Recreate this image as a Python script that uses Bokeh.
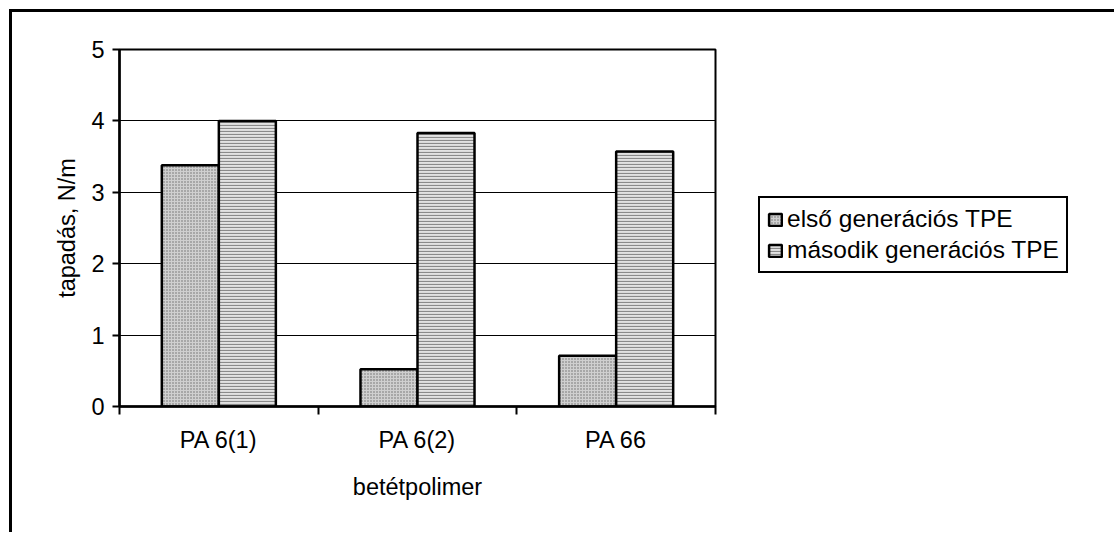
from bokeh.plotting import figure
from bokeh.models import ColumnDataSource, Range1d, FixedTicker, Legend, LegendItem
from bokeh.transform import dodge
from bokeh.embed import file_html
from bokeh.resources import INLINE

# ---- data ----
categories = ["PA 6(1)", "PA 6(2)", "PA 66"]
first_gen = [3.38, 0.52, 0.71]
second_gen = [4.0, 3.83, 3.57]
series_names = ["első generációs TPE", "második generációs TPE"]
y_ticks = [0, 1, 2, 3, 4, 5]
x_title = "betétpolimer"
y_title = "tapadás, N/m"

FONT = "Liberation Sans"
FS = "23.5px"

xpos = [i + 0.5 for i in range(len(categories))]
source = ColumnDataSource(dict(x=xpos, cat=categories, s1=first_gen, s2=second_gen))

p = figure(width=1100, height=520, output_backend="svg", toolbar_location=None,
           x_range=Range1d(0, len(categories)), y_range=Range1d(0, 5),
           min_border_left=107, min_border_top=37, min_border_right=397,
           min_border_bottom=126, frame_width=596, frame_height=357)
p.styles = {"margin-left": "9px", "margin-top": "9px",
            "border-left": "3px solid black", "border-top": "3px solid black"}
p.background_fill_color = "white"
p.border_fill_color = "white"
p.outline_line_color = "black"
p.outline_line_width = 2

bw = 0.287
r1 = p.vbar(x=dodge("x", -bw / 2, range=p.x_range), top="s1", width=bw, source=source,
            fill_color="#cfcfcf", hatch_pattern="dot", hatch_color="#6a6a6a",
            hatch_scale=3, hatch_weight=1, line_color="black", line_width=2.5)
r2 = p.vbar(x=dodge("x", bw / 2, range=p.x_range), top="s2", width=bw, source=source,
            fill_color="#e2e2e2", hatch_pattern="horizontal_line", hatch_color="#8a8a8a",
            hatch_scale=3, hatch_weight=1.2, line_color="black", line_width=2.5)

# x axis: labels at category centres, tick marks at boundaries
p.xaxis.ticker = FixedTicker(ticks=xpos, minor_ticks=list(range(len(categories) + 1)))
p.xaxis.major_label_overrides = {x: c for x, c in zip(xpos, categories)}
p.xaxis.major_tick_line_color = None
p.xaxis.major_tick_out = 8
p.xaxis.major_tick_in = 0
p.xaxis.minor_tick_line_color = "black"
p.xaxis.minor_tick_line_width = 2
p.xaxis.minor_tick_out = 8
p.xaxis.minor_tick_in = 0
p.xaxis.major_label_standoff = 12
p.xaxis.axis_label = x_title
p.xaxis.axis_label_standoff = 18

p.yaxis.ticker = FixedTicker(ticks=y_ticks, minor_ticks=[])
p.yaxis.major_tick_out = 7
p.yaxis.major_tick_in = 0
p.yaxis.major_tick_line_width = 2
p.yaxis.major_label_standoff = 8
p.yaxis.axis_label = y_title
p.yaxis.axis_label_standoff = 8

for ax in (p.xaxis, p.yaxis):
    ax.axis_line_color = "black"
    ax.axis_line_width = 2.5
    ax.major_label_text_font = FONT
    ax.major_label_text_font_size = FS
    ax.major_label_text_color = "black"
    ax.axis_label_text_font = FONT
    ax.axis_label_text_font_size = FS
    ax.axis_label_text_font_style = "normal"
    ax.axis_label_text_color = "black"

p.xgrid.grid_line_color = None
p.ygrid.ticker = FixedTicker(ticks=y_ticks)
p.ygrid.grid_line_color = "black"
p.ygrid.grid_line_width = 1

legend = Legend(items=[LegendItem(label=series_names[0], renderers=[r1]),
                       LegendItem(label=series_names[1], renderers=[r2])],
                location=(43, 133), orientation="vertical")
legend.border_line_color = "black"
legend.border_line_alpha = 1.0
legend.border_line_width = 2.5
legend.background_fill_color = "white"
legend.background_fill_alpha = 1
legend.padding = 7
legend.spacing = 3
legend.margin = 0
legend.glyph_width = 16
legend.glyph_height = 15
legend.label_standoff = 4
legend.label_width = 272
legend.label_height = 27
legend.label_text_font = FONT
legend.label_text_font_size = "24.5px"
legend.label_text_color = "black"
p.add_layout(legend, "right")

open("out.html", "w").write(file_html(p, INLINE))
